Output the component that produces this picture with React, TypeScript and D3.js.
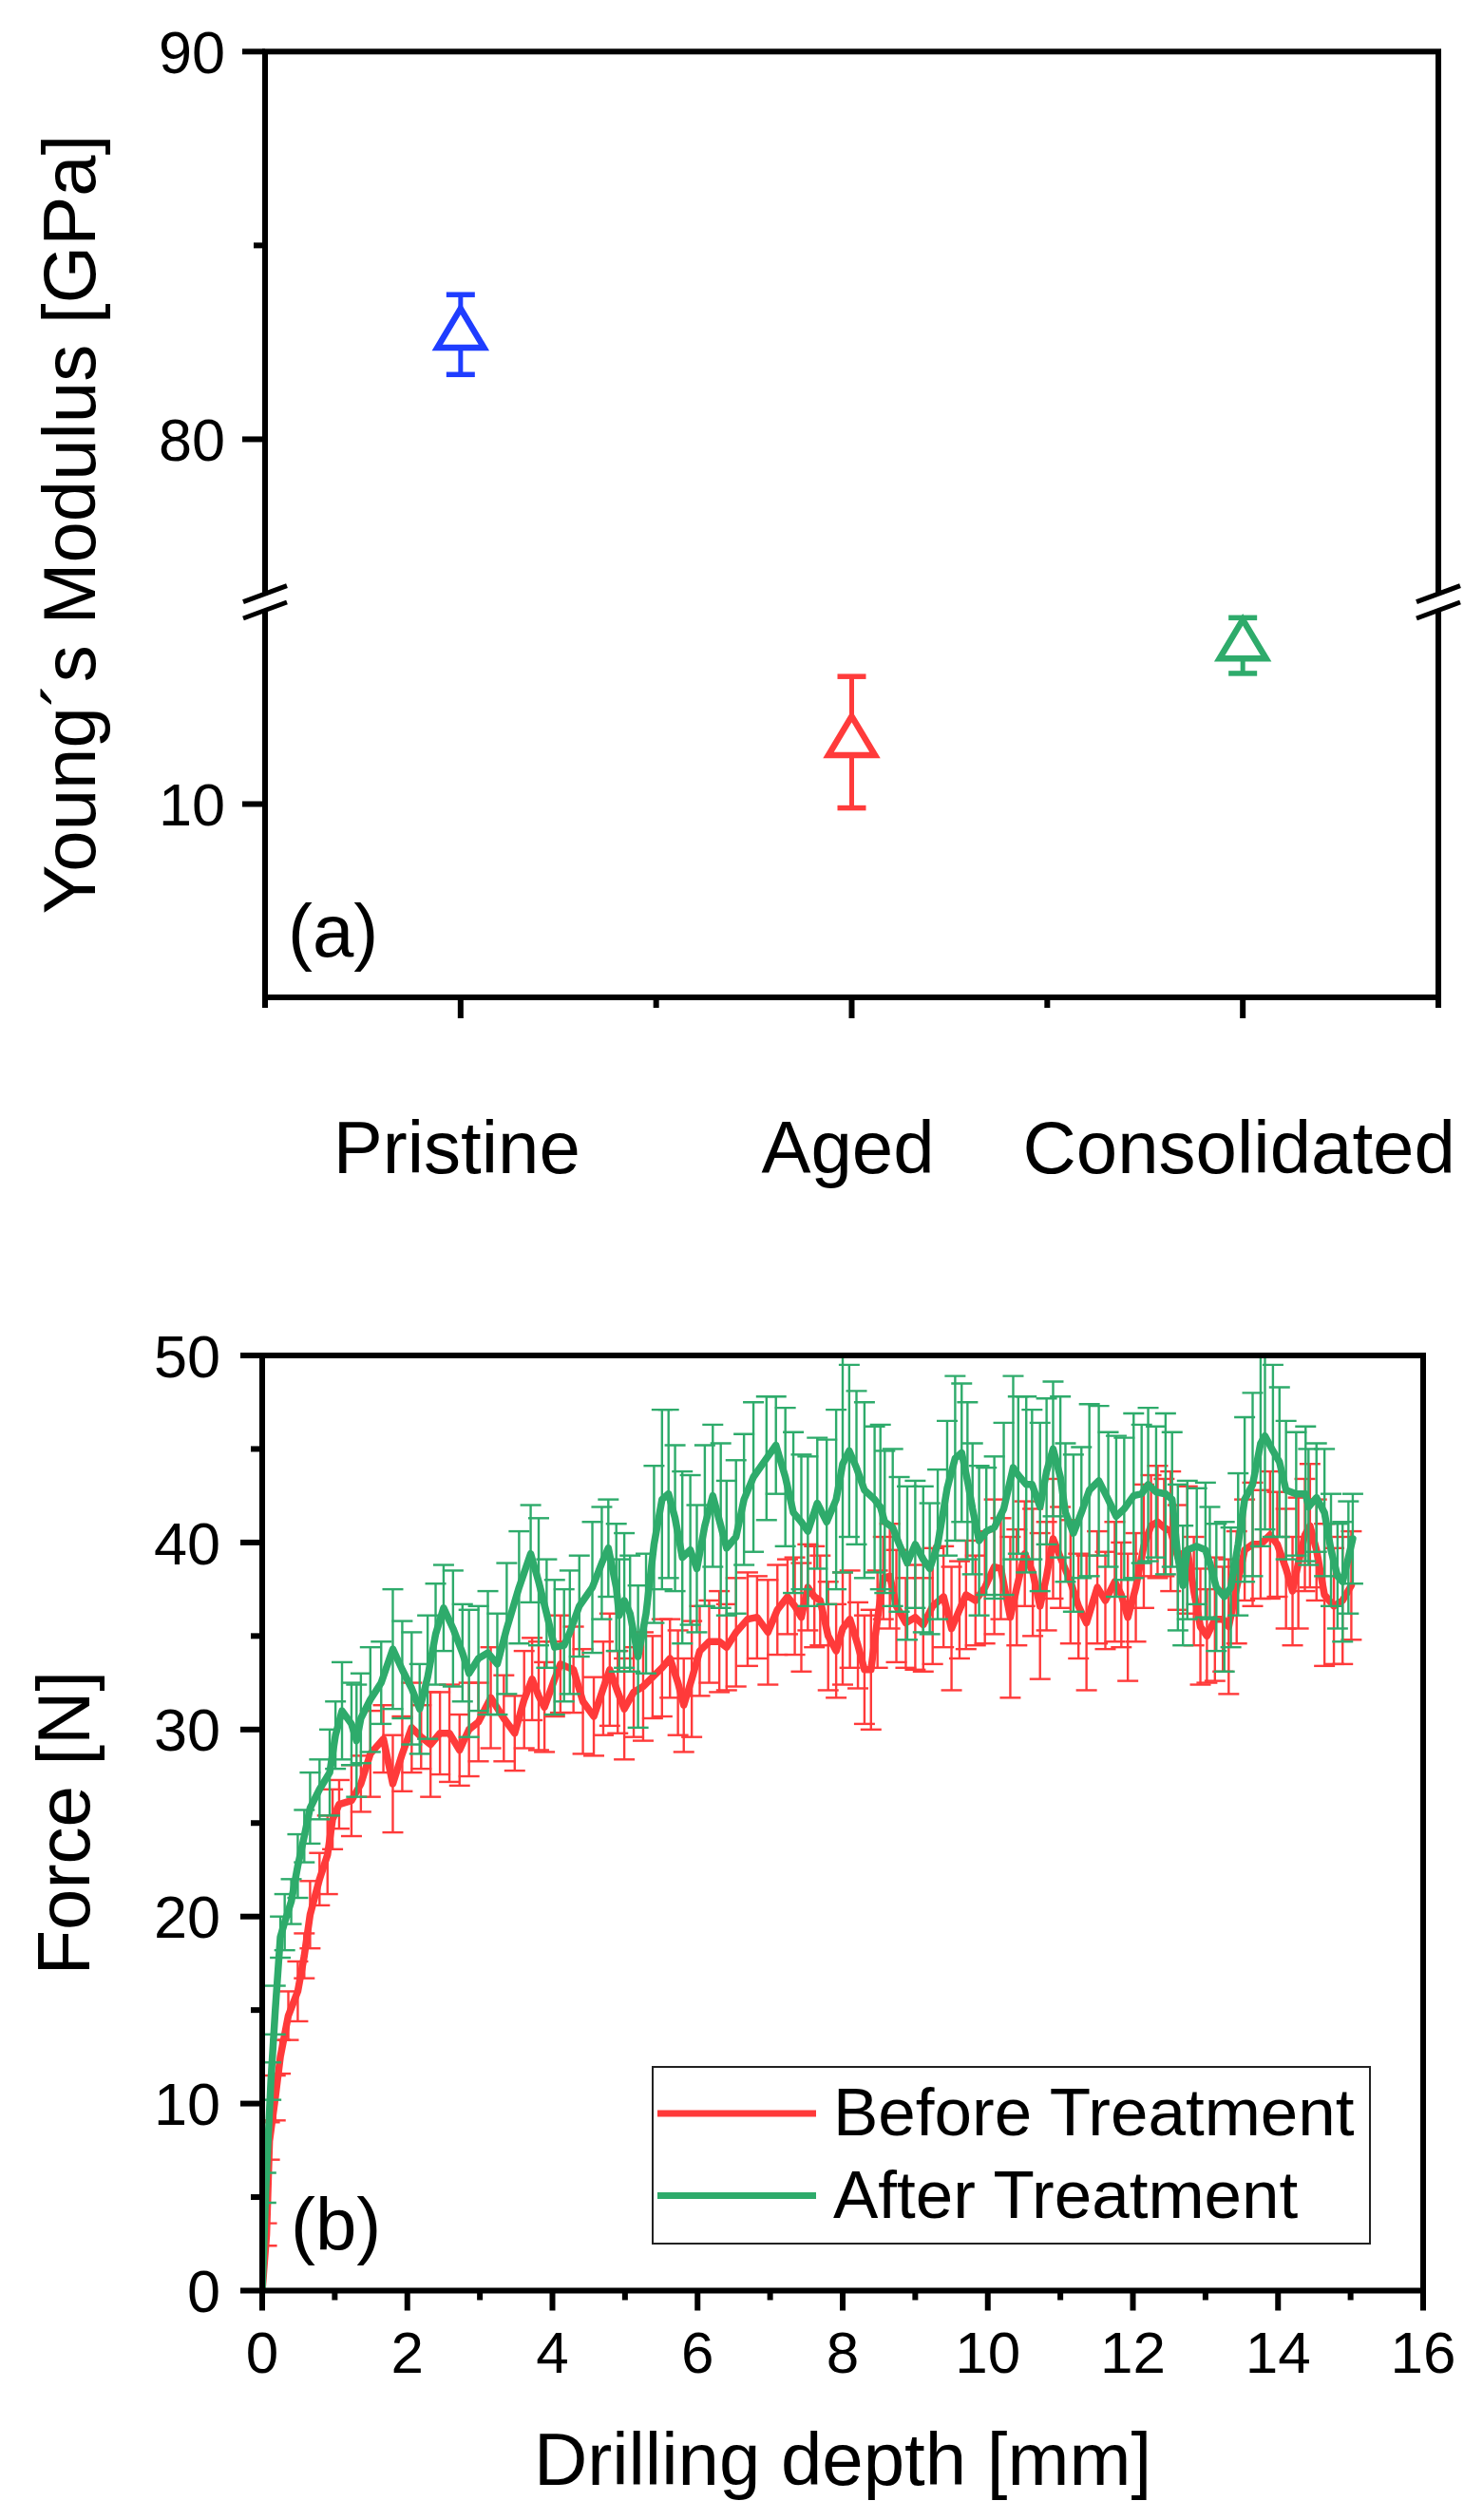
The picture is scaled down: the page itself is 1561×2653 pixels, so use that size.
import React from 'react';
import * as d3 from 'd3';

// ---- panel (a): Young's modulus ----
const categories = ['Pristine', 'Aged', 'Consolidated'];
const modulusMean = [82.7, 11.6, 14.1];
const modulusErr = [1.03, 1.7, 0.72];
const modulusColors = ['#1f3dff', '#ff3b3b', '#2eab6b'];
const modulusTicks = [10, 80, 90];
const modulusMinorTicks = [85];

// ---- panel (b): drilling force, [depth mm, force N, error N] ----
const beforeTreatment: [number, number, number][] = [
  [0.00, 0.0, 0.0], [0.06, 3.0, 0.6], [0.10, 8.0, 1.0], [0.18, 10.3, 1.2], [0.25, 12.5, 0.9],
  [0.36, 14.7, 1.3], [0.49, 16.0, 1.6], [0.58, 17.9, 1.2], [0.66, 20.1, 1.8], [0.79, 22.0, 1.4],
  [0.90, 23.3, 2.1], [0.97, 25.2, 1.6], [1.06, 26.0, 1.3], [1.23, 26.2, 1.9], [1.36, 27.1, 1.5],
  [1.49, 28.7, 2.3], [1.67, 29.5, 1.8], [1.80, 27.1, 2.6], [1.93, 28.7, 2.0], [2.06, 30.1, 2.4],
  [2.19, 29.6, 1.7], [2.32, 29.2, 2.8], [2.45, 29.8, 2.2], [2.58, 29.8, 2.6], [2.72, 28.9, 1.9],
  [2.85, 30.0, 2.5], [2.98, 30.4, 2.1], [3.15, 31.7, 2.7], [3.33, 30.6, 2.3], [3.48, 29.8, 2.0],
  [3.61, 31.6, 2.6], [3.72, 32.7, 2.2], [3.81, 31.8, 2.9], [3.89, 31.2, 2.4], [4.03, 32.7, 2.0],
  [4.11, 33.5, 2.6], [4.29, 33.2, 2.3], [4.42, 31.5, 2.8], [4.57, 30.7, 2.1], [4.70, 32.2, 2.5],
  [4.79, 33.2, 3.0], [4.90, 32.0, 2.2], [4.99, 31.1, 2.7], [5.12, 32.0, 2.4], [5.25, 32.3, 2.9],
  [5.38, 32.8, 2.2], [5.51, 33.3, 2.6], [5.62, 33.8, 2.1], [5.73, 32.5, 2.8], [5.81, 31.3, 2.5],
  [5.92, 32.7, 3.1], [6.03, 34.2, 2.4], [6.16, 34.7, 2.2], [6.30, 34.7, 2.7], [6.40, 34.4, 2.3],
  [6.53, 35.2, 2.9], [6.69, 35.9, 2.5], [6.82, 36.0, 2.2], [6.97, 35.2, 2.8], [7.10, 36.4, 2.4],
  [7.24, 37.1, 2.0], [7.34, 36.6, 2.6], [7.43, 36.0, 2.9], [7.52, 37.6, 2.3], [7.61, 37.1, 2.7],
  [7.69, 36.9, 2.4], [7.80, 35.0, 2.9], [7.91, 34.2, 2.5], [8.00, 35.4, 3.0], [8.10, 35.9, 2.6],
  [8.21, 34.5, 2.3], [8.30, 33.2, 2.9], [8.39, 33.2, 3.2], [8.48, 35.9, 2.6], [8.56, 38.1, 2.2],
  [8.65, 38.2, 2.8], [8.74, 36.6, 3.0], [8.87, 35.7, 2.4], [9.00, 36.0, 2.8], [9.11, 35.6, 2.5],
  [9.24, 36.6, 3.1], [9.39, 37.1, 2.7], [9.50, 35.4, 3.3], [9.61, 36.4, 2.6], [9.70, 37.2, 2.9],
  [9.83, 36.9, 2.4], [9.96, 37.6, 3.0], [10.09, 38.7, 3.6], [10.18, 38.6, 2.7], [10.31, 36.0, 4.3],
  [10.40, 37.6, 3.1], [10.51, 39.4, 2.8], [10.62, 38.4, 3.4], [10.72, 36.6, 3.9], [10.81, 38.2, 2.9],
  [10.90, 40.2, 3.2], [11.00, 39.2, 2.7], [11.14, 37.9, 3.3], [11.25, 36.6, 2.8], [11.36, 35.7, 3.6],
  [11.51, 37.6, 3.0], [11.62, 36.9, 2.6], [11.75, 37.9, 3.2], [11.84, 37.2, 2.8], [11.93, 36.0, 3.4],
  [12.04, 37.6, 2.9], [12.15, 39.8, 3.3], [12.25, 40.9, 2.7], [12.34, 41.1, 3.0], [12.43, 40.8, 2.6],
  [12.52, 40.6, 3.2], [12.62, 39.2, 2.8], [12.75, 39.6, 3.4], [12.84, 37.4, 2.9], [12.93, 35.5, 3.1],
  [13.02, 35.0, 2.5], [13.13, 35.9, 3.3], [13.24, 35.9, 2.8], [13.32, 35.5, 3.6], [13.43, 37.6, 3.0],
  [13.54, 39.6, 2.7], [13.65, 39.9, 3.3], [13.76, 39.9, 2.9], [13.89, 40.4, 3.4], [13.99, 39.9, 2.8],
  [14.11, 38.6, 3.2], [14.20, 37.4, 2.9], [14.28, 38.9, 3.5], [14.37, 40.4, 3.0], [14.44, 40.9, 3.3],
  [14.53, 39.6, 2.7], [14.64, 37.2, 3.8], [14.77, 36.6, 3.1], [14.89, 36.9, 3.4], [15.01, 37.7, 2.9],
];

const afterTreatment: [number, number, number][] = [
  [0.00, 0.0, 0.0], [0.05, 5.5, 0.8], [0.12, 11.2, 1.0], [0.18, 15.0, 1.3], [0.25, 18.9, 1.1],
  [0.31, 19.7, 1.5], [0.40, 20.8, 1.2], [0.49, 22.7, 1.7], [0.58, 24.3, 1.4], [0.66, 25.8, 1.9],
  [0.79, 26.8, 1.6], [0.93, 27.7, 2.3], [1.01, 29.7, 1.8], [1.10, 31.0, 2.6], [1.23, 30.3, 2.2],
  [1.30, 29.4, 3.0], [1.36, 30.6, 2.4], [1.49, 31.6, 2.8], [1.64, 32.5, 2.2], [1.80, 34.3, 3.2],
  [1.93, 33.2, 2.6], [2.06, 32.2, 3.0], [2.17, 31.1, 2.4], [2.28, 32.8, 3.3], [2.39, 35.1, 2.7],
  [2.50, 36.5, 2.3], [2.63, 35.4, 3.1], [2.76, 34.1, 2.6], [2.85, 33.0, 3.4], [2.98, 33.8, 2.8],
  [3.11, 34.1, 3.3], [3.24, 33.5, 2.7], [3.37, 35.4, 3.5], [3.54, 37.6, 3.0], [3.70, 39.4, 2.6],
  [3.81, 37.9, 3.4], [3.92, 36.2, 2.9], [4.03, 34.4, 3.6], [4.16, 34.5, 3.0], [4.24, 35.2, 3.3],
  [4.37, 36.6, 2.7], [4.55, 37.6, 3.5], [4.68, 38.9, 3.0], [4.77, 39.7, 2.6], [4.88, 37.6, 3.4],
  [4.92, 36.1, 3.0], [4.99, 36.9, 3.6], [5.07, 36.2, 3.1], [5.18, 33.9, 3.8], [5.29, 36.2, 3.2],
  [5.40, 39.9, 4.2], [5.51, 42.3, 4.8], [5.60, 42.6, 4.5], [5.69, 41.3, 3.9], [5.79, 39.2, 4.6],
  [5.90, 39.6, 4.0], [5.99, 38.6, 3.4], [6.10, 40.9, 4.3], [6.21, 42.5, 3.8], [6.32, 40.9, 4.4],
  [6.40, 39.7, 3.6], [6.53, 40.3, 4.1], [6.64, 42.3, 3.5], [6.77, 43.5, 4.0], [6.95, 44.5, 3.3],
  [7.08, 45.2, 2.6], [7.21, 43.5, 3.7], [7.32, 41.6, 4.3], [7.43, 41.1, 3.6], [7.52, 40.6, 4.0],
  [7.65, 42.1, 3.5], [7.78, 41.1, 4.4], [7.91, 42.3, 4.8], [8.00, 44.2, 5.8], [8.09, 44.9, 4.6],
  [8.19, 44.0, 4.1], [8.30, 42.8, 4.7], [8.44, 42.3, 3.9], [8.52, 41.9, 4.4], [8.58, 41.1, 3.8],
  [8.69, 40.8, 4.2], [8.78, 39.9, 3.6], [8.89, 38.9, 4.1], [9.00, 39.9, 3.4], [9.11, 39.1, 3.9],
  [9.20, 38.6, 3.5], [9.31, 39.9, 4.0], [9.44, 42.9, 3.6], [9.55, 44.5, 4.4], [9.64, 44.8, 3.7],
  [9.72, 43.3, 4.2], [9.79, 41.8, 3.5], [9.88, 40.1, 4.0], [9.98, 40.6, 3.4], [10.09, 40.8, 3.8],
  [10.22, 41.8, 4.6], [10.35, 44.0, 4.9], [10.42, 43.6, 4.2], [10.53, 43.1, 4.7], [10.61, 43.1, 4.0],
  [10.72, 41.9, 4.5], [10.81, 43.8, 3.9], [10.90, 45.0, 3.6], [11.00, 43.5, 4.3], [11.07, 41.6, 3.7],
  [11.18, 40.5, 4.2], [11.29, 41.6, 3.5], [11.40, 42.8, 4.6], [11.53, 43.3, 4.0], [11.66, 42.3, 3.6],
  [11.77, 41.4, 4.3], [11.88, 41.8, 3.8], [12.01, 42.5, 4.4], [12.12, 42.6, 3.7], [12.21, 43.1, 4.1],
  [12.32, 42.7, 3.5], [12.45, 42.6, 4.3], [12.54, 42.3, 3.6], [12.62, 39.2, 3.9], [12.69, 37.7, 3.2],
  [12.75, 39.6, 3.7], [12.88, 39.8, 3.1], [13.00, 39.6, 3.6], [13.06, 38.9, 3.0], [13.15, 37.6, 3.4],
  [13.26, 37.1, 4.0], [13.35, 37.6, 3.2], [13.45, 39.9, 3.8], [13.54, 42.3, 4.4], [13.65, 43.1, 4.9],
  [13.76, 45.3, 5.5], [13.82, 45.7, 5.0], [13.93, 44.9, 4.6], [14.02, 44.3, 4.0], [14.11, 42.8, 3.7],
  [14.25, 42.6, 3.3], [14.38, 42.6, 3.6], [14.42, 41.9, 3.1], [14.53, 42.4, 2.9], [14.64, 41.6, 3.4],
  [14.73, 39.6, 3.0], [14.82, 38.2, 2.8], [14.89, 37.9, 3.2], [14.97, 39.2, 3.0], [15.03, 40.2, 2.4],
];

const forceSeries = [
  { name: 'Before Treatment', color: '#ff3a3a', data: beforeTreatment },
  { name: 'After Treatment', color: '#2eab6b', data: afterTreatment },
];
const depthTicks = [0, 2, 4, 6, 8, 10, 12, 14, 16];
const forceTicks = [0, 10, 20, 30, 40, 50];

const FONT = "'Liberation Sans', Arial, Helvetica, sans-serif";
const AXIS_W = 6;

const App = () => {
  // ----- panel (a) scales (broken y axis) -----
  const xA = d3.scaleLinear().domain([0.5, 3.5]).range([279, 1514]);
  const yLow = d3.scaleLinear().domain([5, 15]).range([1050, 643]);
  const yHigh = d3.scaleLinear().domain([76, 90]).range([625.7, 54.3]);
  const yA = (v: number) => (v <= 15 ? yLow(v) : yHigh(v));
  const aLeft = xA(0.5), aRight = xA(3.5), aTop = yHigh(90), aBottom = yLow(5);
  const breakTop = yHigh(76), breakBottom = yLow(15);

  // ----- panel (b) scales -----
  const xB = d3.scaleLinear().domain([0, 16]).range([276, 1498]);
  const yB = d3.scaleLinear().domain([0, 50]).range([2411.5, 1427]);
  const bLeft = xB(0), bRight = xB(16), bTop = yB(50), bBottom = yB(0);

  const line = d3.line<[number, number, number]>()
    .x(d => xB(d[0]))
    .y(d => yB(d[1]));

  const triW = 49, triH = 41;
  const triangle = (cx: number, cy: number) =>
    `M${cx},${cy - (2 / 3) * triH} L${cx + triW / 2},${cy + triH / 3} L${cx - triW / 2},${cy + triH / 3} Z`;

  const breakMarks = (x: number) => (
    <g>
      <rect x={x - 6} y={breakTop + 1} width={12} height={breakBottom - breakTop - 2} fill="white" />
      {[breakTop, breakBottom].map((yy, i) => (
        <line key={i} x1={x - 23} y1={yy + 8} x2={x + 23} y2={yy - 9} stroke="black" strokeWidth={5} />
      ))}
    </g>
  );

  return (
    <svg width={1561} height={2653} style={{ position: 'absolute', left: 0, top: 0, background: 'white' }}
      fontFamily={FONT}>
      <rect x={0} y={0} width={1561} height={2653} fill="white" />

      {/* ================= panel (a) ================= */}
      <g>
        {/* frame */}
        <rect x={aLeft} y={aTop} width={aRight - aLeft} height={aBottom - aTop}
          fill="none" stroke="black" strokeWidth={AXIS_W} />
        {breakMarks(aLeft)}
        {breakMarks(aRight)}

        {/* y ticks */}
        {modulusTicks.map(t => (
          <g key={t}>
            <line x1={aLeft - 24} x2={aLeft} y1={yA(t)} y2={yA(t)} stroke="black" strokeWidth={AXIS_W} />
            <text x={237} y={yA(t)} dy="0.36em" textAnchor="end" fontSize={63}>{t}</text>
          </g>
        ))}
        {modulusMinorTicks.map(t => (
          <line key={t} x1={aLeft - 12} x2={aLeft} y1={yA(t)} y2={yA(t)} stroke="black" strokeWidth={AXIS_W} />
        ))}

        {/* x ticks */}
        {categories.map((c, i) => (
          <line key={c} x1={xA(i + 1)} x2={xA(i + 1)} y1={aBottom} y2={aBottom + 22} stroke="black" strokeWidth={AXIS_W} />
        ))}
        {[0.5, 1.5, 2.5, 3.5].map(t => (
          <line key={t} x1={xA(t)} x2={xA(t)} y1={aBottom} y2={aBottom + 11} stroke="black" strokeWidth={AXIS_W} />
        ))}
        {categories.map((c, i) => (
          <text key={c} x={xA(i + 1) - 4} y={1235} textAnchor="middle" fontSize={78}>{c}</text>
        ))}

        {/* points with error bars */}
        {categories.map((c, i) => {
          const cx = xA(i + 1);
          const lo = yA(modulusMean[i] - modulusErr[i]);
          const hi = yA(modulusMean[i] + modulusErr[i]);
          const col = modulusColors[i];
          return (
            <g key={c} stroke={col} strokeWidth={5}>
              <line x1={cx} x2={cx} y1={lo} y2={hi} />
              <line x1={cx - 15} x2={cx + 15} y1={lo} y2={lo} strokeWidth={5.5} />
              <line x1={cx - 15} x2={cx + 15} y1={hi} y2={hi} strokeWidth={5.5} />
              <path d={triangle(cx, yA(modulusMean[i]))} fill="white" strokeWidth={6.5} strokeLinejoin="miter" />
            </g>
          );
        })}

        <text transform={`translate(100, ${(aTop + aBottom) / 2}) rotate(-90)`} textAnchor="middle" fontSize={78}>
          Young´s Modulus [GPa]
        </text>
        <text x={303} y={1007} fontSize={78}>(a)</text>
      </g>

      {/* ================= panel (b) ================= */}
      <g>
        <defs>
          <clipPath id="plotB">
            <rect x={bLeft} y={bTop} width={bRight - bLeft} height={bBottom - bTop} />
          </clipPath>
        </defs>

        <g clipPath="url(#plotB)">
          {forceSeries.map(s => (
            <g key={s.name}>
              <g stroke={s.color} strokeWidth={2.4}>
                {s.data.filter(d => d[2] > 0).map((d, i) => {
                  const cx = xB(d[0]);
                  const lo = yB(d[1] - d[2]);
                  const hi = yB(d[1] + d[2]);
                  return (
                    <g key={i}>
                      <line x1={cx} x2={cx} y1={lo} y2={hi} />
                      <line x1={cx - 11} x2={cx + 11} y1={lo} y2={lo} />
                      <line x1={cx - 11} x2={cx + 11} y1={hi} y2={hi} />
                    </g>
                  );
                })}
              </g>
              <path d={line(s.data) || ''} fill="none" stroke={s.color} strokeWidth={7.5}
                strokeLinejoin="round" strokeLinecap="round" />
            </g>
          ))}
        </g>

        {/* frame */}
        <rect x={bLeft} y={bTop} width={bRight - bLeft} height={bBottom - bTop}
          fill="none" stroke="black" strokeWidth={AXIS_W} />

        {/* y ticks */}
        {forceTicks.map(t => (
          <g key={t}>
            <line x1={bLeft - 23} x2={bLeft} y1={yB(t)} y2={yB(t)} stroke="black" strokeWidth={AXIS_W} />
            <text x={232} y={yB(t)} dy="0.36em" textAnchor="end" fontSize={63}>{t}</text>
          </g>
        ))}
        {forceTicks.slice(0, -1).map(t => (
          <line key={t} x1={bLeft - 12} x2={bLeft} y1={yB(t + 5)} y2={yB(t + 5)} stroke="black" strokeWidth={AXIS_W} />
        ))}

        {/* x ticks */}
        {depthTicks.map(t => (
          <g key={t}>
            <line x1={xB(t)} x2={xB(t)} y1={bBottom} y2={bBottom + 21} stroke="black" strokeWidth={AXIS_W} />
            <text x={xB(t)} y={2498} textAnchor="middle" fontSize={62}>{t}</text>
          </g>
        ))}
        {depthTicks.slice(0, -1).map(t => (
          <line key={t} x1={xB(t + 1)} x2={xB(t + 1)} y1={bBottom} y2={bBottom + 10} stroke="black" strokeWidth={AXIS_W} />
        ))}

        {/* legend */}
        <rect x={687} y={2176} width={755} height={186} fill="white" stroke="#222" strokeWidth={2} />
        {forceSeries.map((s, i) => (
          <g key={s.name}>
            <line x1={692} x2={859} y1={2225 + i * 86.5} y2={2225 + i * 86.5} stroke={s.color} strokeWidth={7} />
            <text x={877} y={2248 + i * 86.5} fontSize={71}>{s.name}</text>
          </g>
        ))}

        <text transform={`translate(94, ${(bTop + bBottom) / 2}) rotate(-90)`} textAnchor="middle" fontSize={78}>
          Force [N]
        </text>
        <text x={(bLeft + bRight) / 2} y={2616} textAnchor="middle" fontSize={78}>Drilling depth [mm]</text>
        <text x={306} y={2369} fontSize={78}>(b)</text>
      </g>
    </svg>
  );
};

export default App;
